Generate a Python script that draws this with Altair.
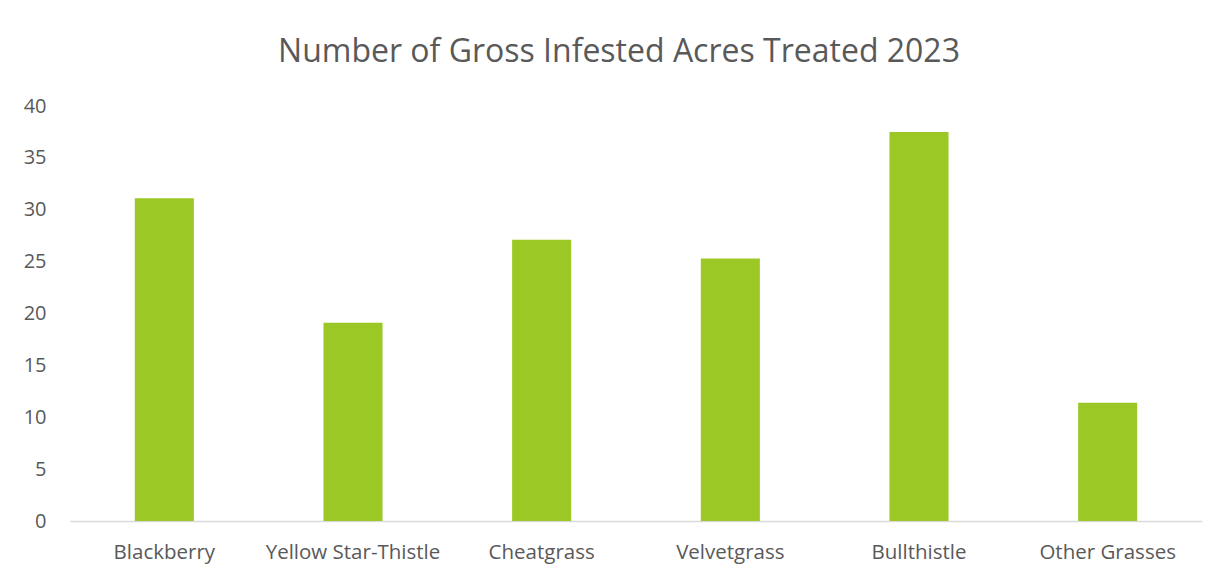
import altair as alt
import pandas as pd

categories = ["Blackberry", "Yellow Star-Thistle", "Cheatgrass", "Velvetgrass", "Bullthistle", "Other Grasses"]
acres = [31.1, 19.1, 27.1, 25.3, 37.5, 11.4]
y_ticks = [0, 5, 10, 15, 20, 25, 30, 35, 40]

df = pd.DataFrame({"category": categories, "acres": acres})

FONT = "Open Sans"
TEXT = "#595959"

chart = (
    alt.Chart(df)
    .mark_bar(color="#9BC824")
    .encode(
        x=alt.X(
            "category:N",
            sort=categories,
            title=None,
            scale=alt.Scale(paddingInner=0.687, paddingOuter=0.3435),
            axis=alt.Axis(
                labelAngle=0,
                labelFont=FONT,
                labelFontSize=20.5,
                labelColor=TEXT,
                labelPadding=21,
                ticks=False,
                domainColor="#D9D9D9",
                domainWidth=1.5,
                grid=False,
            ),
        ),
        y=alt.Y(
            "acres:Q",
            title=None,
            scale=alt.Scale(domain=[0, 40], nice=False),
            axis=alt.Axis(
                values=y_ticks,
                labelFont=FONT,
                labelFontSize=20,
                labelColor=TEXT,
                labelPadding=24,
                ticks=False,
                domain=False,
                grid=False,
            ),
        ),
    )
    .properties(
        width=1132,
        height=415,
        padding={"left": 15, "top": 28, "right": 5, "bottom": 5},
        title=alt.TitleParams(
            "Number of Gross Infested Acres Treated 2023",
            font=FONT,
            fontSize=32,
            fontWeight="normal",
            color=TEXT,
            anchor="middle",
            offset=27,
            dx=-17,
        ),
    )
    .configure_view(stroke=None)
)

chart.save("out.html", embed_options={"renderer": "svg", "actions": False})
